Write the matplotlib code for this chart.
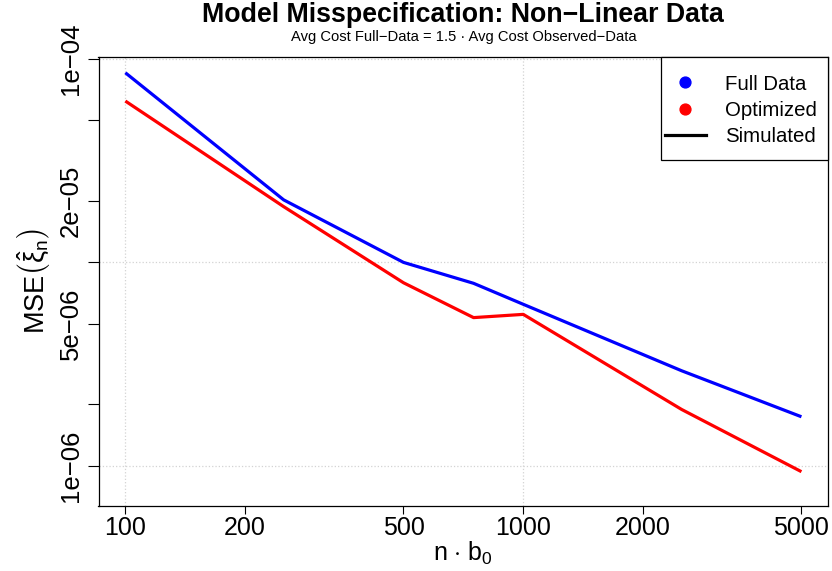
import matplotlib
matplotlib.use("Agg")
import matplotlib.pyplot as plt
from matplotlib.lines import Line2D
from matplotlib.patches import Rectangle

plt.rcParams['font.family'] = ['Liberation Sans', 'DejaVu Sans']
plt.rcParams['mathtext.fontset'] = 'custom'
plt.rcParams['mathtext.rm'] = 'Liberation Sans'
plt.rcParams['mathtext.it'] = 'Liberation Sans:italic'
plt.rcParams['mathtext.bf'] = 'Liberation Sans:bold'

# Data
n_b0 = [100, 250, 500, 750, 1000, 2500, 5000]
mse_full = [8.57e-5, 2.03e-5, 1.00e-5, 7.89e-6, 6.22e-6, 2.93e-6, 1.74e-6]
mse_opt = [6.22e-5, 1.88e-5, 7.94e-6, 5.35e-6, 5.55e-6, 1.89e-6, 9.34e-7]

x_ticks = [100, 200, 500, 1000, 2000, 5000]
x_ticklabels = ["100", "200", "500", "1000", "2000", "5000"]
y_ticks = [1e-4, 5e-5, 2e-5, 1e-5, 5e-6, 2e-6, 1e-6]
y_ticklabels = ["1e\u221204", "", "2e\u221205", "", "5e\u221206", "", "1e\u221206"]
grid_x = [100, 1000]
grid_y = [1e-4, 1e-5, 1e-6]
legend_labels = ['Full Data', 'Optimized', 'Simulated']

W, H = 832, 571
fig = plt.figure(figsize=(W/100, H/100), dpi=100)
ax_left, ax_right, ax_top, ax_bottom = 98.5, 828.3, 57.3, 505.7
ax = fig.add_axes([ax_left/W, 1 - ax_bottom/H, (ax_right - ax_left)/W, (ax_bottom - ax_top)/H])
xc = (ax_left + ax_right) / 2 / W

ax.set_xscale('log')
ax.set_yscale('log')
ax.set_xlim(10**1.9325, 10**3.7665)
ax.set_ylim(10**-6.197, 10**-3.991)

for gx in grid_x:
    ax.axvline(gx, color='lightgray', linestyle=':', linewidth=0.9, zorder=0)
for gy in grid_y:
    ax.axhline(gy, color='lightgray', linestyle=':', linewidth=0.9, zorder=0)

ax.plot(n_b0, mse_full, color='#0000FF', linewidth=2.3, solid_capstyle='butt')
ax.plot(n_b0, mse_opt, color='#FF0000', linewidth=2.3, solid_capstyle='butt')

ax.xaxis.set_minor_locator(matplotlib.ticker.NullLocator())
ax.yaxis.set_minor_locator(matplotlib.ticker.NullLocator())
ax.set_xticks(x_ticks)
ax.set_xticklabels(x_ticklabels)
ax.set_yticks(y_ticks)
ax.set_yticklabels(y_ticklabels, rotation=90, va='center')
ax.tick_params(axis='x', length=6, width=0.8, pad=1.5, labelsize=18)
ax.tick_params(axis='y', length=7.8, width=0.8, pad=3.5, labelsize=18.5)

for s in ax.spines.values():
    s.set_linewidth(0.9)

ax.set_xlabel(r'n $\cdot$ b$_0$', fontsize=18, labelpad=0)
ax.set_ylabel(r'MSE$\left(\hat{\mathrm{\xi}}_{\mathrm{n}}\right)$', fontsize=19.5, labelpad=4)

fig.text(xc, 1 - 22/H, 'Model Misspecification: Non\u2212Linear Data',
         ha='center', va='baseline', fontsize=19.3, fontweight='bold')
fig.text(xc, 1 - 41.5/H, 'Avg Cost Full\u2212Data = 1.5 \u00b7 Avg Cost Observed\u2212Data',
         ha='center', va='baseline', fontsize=10.6)

# legend frame (R style box anchored in top-right corner)
lx0, lx1, ly0, ly1 = 660.7, ax_right, ax_top, 160.0
frame = Rectangle((lx0/W, 1 - ly1/H), (lx1 - lx0)/W, (ly1 - ly0)/H,
                  transform=fig.transFigure, facecolor='white', edgecolor='black',
                  linewidth=0.9, zorder=5)
fig.add_artist(frame)

handles = [
    Line2D([], [], marker='o', linestyle='none', color='#0000FF', markersize=7.8),
    Line2D([], [], marker='o', linestyle='none', color='#FF0000', markersize=7.8),
    Line2D([], [], color='black', linewidth=2.3),
]
leg = fig.legend(handles, legend_labels,
                 loc='upper left', bbox_to_anchor=(665/W, 1 - 74.5/H),
                 bbox_transform=fig.transFigure, borderaxespad=0,
                 fontsize=14.7, frameon=False,
                 handlelength=2.0, handletextpad=0.95, labelspacing=0.36,
                 borderpad=0)
leg.set_zorder(6)

fig.savefig('out.png', dpi=100)
